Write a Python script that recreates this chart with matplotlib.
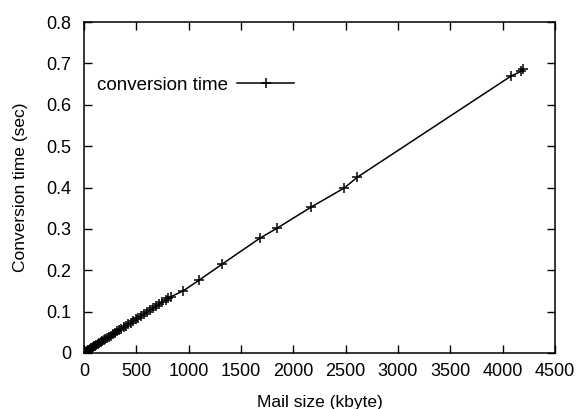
import numpy as np
import matplotlib.pyplot as plt

plt.rcParams['font.family'] = ['Liberation Sans', 'DejaVu Sans']

# mail size (kbyte) and conversion time (sec)
mail_size = [2, 5, 8, 12, 16, 20, 25, 30, 36, 42, 50, 58, 66, 75, 85, 95,
             105, 118, 130, 145, 160, 175, 190, 205, 222, 240, 258, 275, 295,
             315, 335, 355, 378, 400, 420, 445, 470, 495, 520, 548, 575, 600,
             630, 660, 690, 720, 750, 780, 805, 830,
             947, 1100, 1321, 1684, 1847, 2172, 2488, 2612, 4077, 4175, 4191]
conv_time = [0.001, 0.001, 0.002, 0.002, 0.003, 0.003, 0.004, 0.005, 0.006, 0.007,
             0.008, 0.010, 0.011, 0.012, 0.014, 0.016, 0.017, 0.019, 0.021, 0.024,
             0.026, 0.029, 0.031, 0.034, 0.036, 0.039, 0.042, 0.045, 0.048, 0.052,
             0.055, 0.058, 0.062, 0.065, 0.069, 0.073, 0.077, 0.081, 0.085, 0.090,
             0.094, 0.098, 0.103, 0.108, 0.113, 0.118, 0.123, 0.128, 0.132, 0.136,
             0.150, 0.176, 0.215, 0.278, 0.302, 0.353, 0.399, 0.425, 0.669, 0.681, 0.686]

fig = plt.figure(figsize=(5.79, 4.09), dpi=100)
ax = fig.add_axes([0.145, 0.137, 0.8135, 0.809])

ax.plot(mail_size, conv_time, color='black', linewidth=1.1, marker='+',
        markersize=7, markeredgewidth=1.1, label='conversion time')

ax.set_xlim(0, 4500)
ax.set_ylim(0, 0.8)
ax.set_xticks(np.arange(0, 4501, 500))
ax.set_yticks(np.arange(0, 0.81, 0.1))
ax.set_yticklabels(['0', '0.1', '0.2', '0.3', '0.4', '0.5', '0.6', '0.7', '0.8'])
ax.tick_params(direction='in', top=True, right=True, length=6, width=1,
               labelsize=13, colors='black')
ax.tick_params(axis='x', pad=7)
ax.tick_params(axis='y', pad=9)
for s in ax.spines.values():
    s.set_linewidth(1.1)

ax.set_xlabel('Mail size (kbyte)', fontsize=12.5, labelpad=11)
ax.set_ylabel('Conversion time (sec)', fontsize=12.5, labelpad=13)

leg = ax.legend(loc='upper left', bbox_to_anchor=(0.0, 0.875), frameon=False,
                markerfirst=False, fontsize=13.5, handlelength=3.0,
                handletextpad=0.5, borderaxespad=0.3)

fig.savefig('out.png', dpi=100)
